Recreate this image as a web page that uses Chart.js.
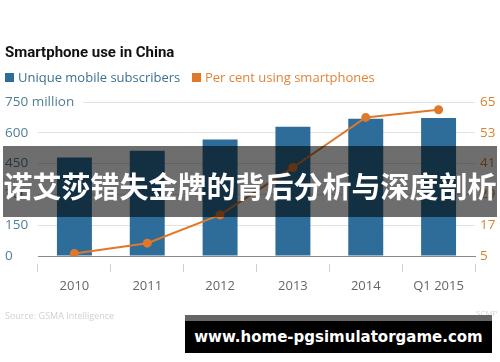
<!DOCTYPE html>
<html lang="en">
<head>
<meta charset="UTF-8">
<title>Smartphone use in China</title>
<script src="https://cdn.jsdelivr.net/npm/chart.js"></script>
<style>
    body { margin: 0; background: #fff; font-family: "Open Sans", sans-serif; }
    #wrap { position: relative; width: 500px; height: 362px; overflow: hidden; }
    #titulo { position: absolute; left: 5px; top: 43px; font-family: Roboto, sans-serif; font-size: 15px; font-weight: 700; color: #111; }
    .leg { position: absolute; top: 68px; font-size: 13px; white-space: nowrap; }
    .leg span { display: inline-block; width: 9px; height: 9px; margin-right: 4px; vertical-align: 0px; }
    #fonte { position: absolute; left: 5px; top: 309px; font-size: 9px; color: #d0d0d0; }
    #scmp { position: absolute; left: 476px; top: 307px; font-size: 8px; color: #d6d6d6; }
    #faixa { position: absolute; left: 3px; top: 146px; width: 494px; height: 71px; background: rgba(0,0,0,0.57); }
    #faixa p { margin: 0; position: absolute; left: -10px; right: -10px; top: 19px; text-align: center; color: #fff;
        font-family: "Noto Sans CJK SC", sans-serif; font-weight: 700; font-size: 29px; line-height: 40px; }
    #marca { position: absolute; left: 185px; top: 315px; width: 307px; height: 38px; background: #000; border-top: 6px solid #666; box-sizing: border-box; }
    #marca p { margin: 0; text-align: center; color: #fff; font-family: "DejaVu Sans", sans-serif; font-weight: 700; font-size: 15px; line-height: 33px; }
    canvas { position: absolute; left: 0; top: 0; }
</style>
</head>
<body>
<div id="wrap">
    <canvas id="grafico" width="500" height="362"></canvas>
    <div id="titulo">Smartphone use in China</div>
    <div class="leg" style="left:5px;color:#3b7193"><span style="background:#2e6d9a"></span>Unique mobile subscribers</div>
    <div class="leg" style="left:192px;color:#e0843a"><span style="background:#e0782a"></span>Per cent using smartphones</div>
    <div id="fonte">Source: GSMA Intelligence</div>
    <div id="scmp">SCMP</div>
    <div id="faixa"><p>诺艾莎错失金牌的背后分析与深度剖析</p></div>
    <div id="marca"><p>www.home-pgsimulatorgame.com</p></div>
</div>

<script>
// dados
var anos = ['2010', '2011', '2012', '2013', '2014', 'Q1 2015'];
var assinantes = [480, 513, 567, 629, 668, 672];   // milhoes
var pctSmartphone = [6, 10, 21, 39.5, 59, 62];      // %

var azul = '#2e6d9a';
var laranja = '#e0782a';

const dados = {
    labels: anos,
    datasets: [{
        type: 'line',
        label: 'Per cent using smartphones',
        data: pctSmartphone,
        yAxisID: 'y1',
        borderColor: laranja,
        backgroundColor: laranja,
        borderWidth: 2,
        pointRadius: 3.5,
        tension: 0,
        order: 0
    }, {
        type: 'bar',
        label: 'Unique mobile subscribers',
        data: assinantes,
        yAxisID: 'y',
        backgroundColor: azul,
        barPercentage: 0.48,
        categoryPercentage: 1,
        order: 1
    }]
};

const config = {
    data: dados,
    options: {
        responsive: false,
        animation: false,
        layout: { padding: { top: 102, left: 5, right: 0, bottom: 0 } },
        plugins: { legend: { display: false }, tooltip: { enabled: false } },
        scales: {
            x: {
                afterFit: function (s) { s.height = 106; },
                grid: { drawOnChartArea: false, tickLength: 16, tickColor: '#cfcfcf', tickBorderDash: [0, 7, 9, 100] },
                border: { color: '#8a8a8a', width: 1 },
                ticks: { color: '#666', padding: 6, font: { family: 'Open Sans', size: 13 }, maxRotation: 0, autoSkip: false }
            },
            y: {
                position: 'left',
                min: 0, max: 750,
                afterFit: function (s) { s.width = 33; },
                grid: { color: '#e2e2e2', drawTicks: false },
                border: { display: false },
                ticks: {
                    stepSize: 150,
                    mirror: true,          // sem recorte do rotulo "750 million"
                    crossAlign: 'near',
                    padding: -33,
                    color: '#4f7f95',
                    font: { family: 'Open Sans', size: 13.5 },
                    callback: function (v) { return v === 750 ? '750 million' : v; },
                    showLabelBackdrop: true,
                    backdropColor: function (ctx) { return ctx.tick && ctx.tick.value === 750 ? '#fff' : 'rgba(0,0,0,0)'; },
                    backdropPadding: { left: 0, right: 9, top: 2, bottom: 2 }
                }
            },
            y1: {
                position: 'right',
                min: 5, max: 65,
                afterFit: function (s) { s.width = 25; },
                grid: { drawOnChartArea: false, drawTicks: false },
                border: { display: false },
                ticks: { stepSize: 12, padding: 5, color: '#d9822b', font: { family: 'Open Sans', size: 13.5 } }
            }
        }
    }
};

const ctx = document.getElementById('grafico').getContext('2d');
new Chart(ctx, config);
</script>
</body>
</html>
